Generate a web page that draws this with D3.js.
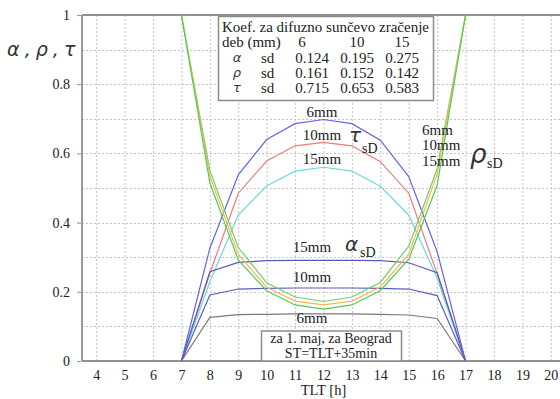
<!DOCTYPE html>
<html>
<head>
<meta charset="utf-8">
<script src="https://cdn.jsdelivr.net/npm/d3@7"></script>
<style>
  html, body { margin: 0; padding: 0; background: #fff; }
  svg { display: block; }
  text { font-family: "Liberation Serif", "Times New Roman", serif; fill: #222; }
  .greek { font-family: "DejaVu Sans", sans-serif; font-style: italic; font-weight: 200; fill: #333; }
</style>
</head>
<body>
<svg id="chart" width="560" height="399"></svg>
<script>
// Hours of the day (local solar time) at which coefficients are given
const hours = [7, 8, 9, 10, 11, 12, 13, 14, 15, 16, 17];

// Transmission of diffuse radiation, tau_sD, for 6 / 10 / 15 mm glass
const tau6  = [0, 0.326, 0.538, 0.640, 0.686, 0.698, 0.686, 0.638, 0.533, 0.316, 0];
const tau10 = [0, 0.253, 0.485, 0.578, 0.622, 0.632, 0.622, 0.576, 0.485, 0.253, 0];
const tau15 = [0, 0.229, 0.422, 0.506, 0.549, 0.560, 0.549, 0.505, 0.422, 0.240, 0];

// Absorption, alpha_sD
const alpha6  = [0, 0.126, 0.134, 0.135, 0.136, 0.136, 0.136, 0.135, 0.133, 0.123, 0];
const alpha10 = [0, 0.191, 0.208, 0.210, 0.211, 0.211, 0.211, 0.210, 0.208, 0.189, 0];
const alpha15 = [0, 0.258, 0.285, 0.290, 0.291, 0.291, 0.291, 0.290, 0.284, 0.255, 0];

// Reflection, rho_sD
const rho6  = [1, 0.550, 0.328, 0.226, 0.185, 0.172, 0.185, 0.227, 0.332, 0.555, 1];
const rho10 = [1, 0.535, 0.308, 0.213, 0.173, 0.162, 0.173, 0.214, 0.309, 0.540, 1];
const rho15 = [1, 0.515, 0.292, 0.203, 0.162, 0.150, 0.162, 0.204, 0.294, 0.508, 1];

// Tick labels
const xTicks = [4, 5, 6, 7, 8, 9, 10, 11, 12, 13, 14, 15, 16, 17, 18, 19, 20];
const yTicks = [0, 0.2, 0.4, 0.6, 0.8, 1];
const yGrid  = [0.1, 0.2, 0.3, 0.4, 0.5, 0.6, 0.7, 0.8, 0.9];

// Average diffuse coefficients table
const thicknesses = ["6", "10", "15"];
const tableRows = [
  { sym: "α", vals: ["0.124", "0.195", "0.275"] },
  { sym: "ρ", vals: ["0.161", "0.152", "0.142"] },
  { sym: "τ", vals: ["0.715", "0.653", "0.583"] }
];

const series = [
  { v: tau6,    color: "#6262f5" },
  { v: tau10,   color: "#ee7a7a" },
  { v: tau15,   color: "#66dada" },
  { v: alpha6,  color: "#7a7a7a" },
  { v: alpha10, color: "#5c5cc8" },
  { v: alpha15, color: "#5a5ab8" },
  { v: rho6,    color: "#6fd060" },
  { v: rho10,   color: "#ffb060" },
  { v: rho15,   color: "#4fce4f" }
];

const svg = d3.select("#chart");
const x = d3.scaleLinear().domain([3.5, 20.5]).range([82, 565]);
const y = d3.scaleLinear().domain([0, 1]).range([361, 15]);

// grid
const grid = svg.append("g").attr("stroke", "#c4c4c4").attr("stroke-width", 1)
  .attr("stroke-dasharray", "2,2");
grid.selectAll("line.v").data(xTicks).join("line")
  .attr("x1", d => x(d) + 0.5).attr("x2", d => x(d) + 0.5)
  .attr("y1", y(1)).attr("y2", y(0));
grid.selectAll("line.h").data(yGrid).join("line")
  .attr("x1", x(3.5)).attr("x2", 560)
  .attr("y1", d => Math.round(y(d)) + 0.5).attr("y2", d => Math.round(y(d)) + 0.5);

// frame
const frame = svg.append("g").attr("stroke", "#919191").attr("stroke-width", 1.8).attr("fill", "none");
frame.append("line").attr("x1", x(3.5)).attr("x2", 560).attr("y1", y(1)).attr("y2", y(1));
frame.append("line").attr("x1", x(3.5)).attr("x2", 560).attr("y1", y(0)).attr("y2", y(0));
frame.append("line").attr("x1", x(3.5)).attr("x2", x(3.5)).attr("y1", y(1)).attr("y2", y(0));

// axes (labels only; frame drawn above)
const yAxis = d3.axisLeft(y).tickValues(yTicks).tickSize(4).tickPadding(7)
  .tickFormat(d => d === 0 || d === 1 ? d3.format("d")(d) : d3.format(".1f")(d));
const gy = svg.append("g").attr("transform", `translate(${x(3.5) - 1},0)`).call(yAxis);
gy.select(".domain").remove();
gy.selectAll("line").attr("stroke", "#919191");
gy.selectAll("text").attr("font-size", 14).attr("font-family", "Liberation Serif").attr("fill", "#222");

const xAxis = d3.axisBottom(x).tickValues(xTicks).tickSize(0).tickPadding(9).tickFormat(d3.format("d"));
const gx = svg.append("g").attr("transform", `translate(0,${y(0)})`).call(xAxis);
gx.select(".domain").remove();
gx.selectAll("text").attr("font-size", 14).attr("font-family", "Liberation Serif").attr("fill", "#222");

svg.append("text").attr("x", x(12)).attr("y", 395).attr("text-anchor", "middle")
  .attr("font-size", 14.5).text("TLT [h]");
svg.append("text").attr("class", "greek").attr("x", 41).attr("y", 56).attr("text-anchor", "middle")
  .attr("font-size", 19).attr("letter-spacing", -0.5).text("α , ρ , τ");

// curves
const line = d3.line().x((d, i) => x(hours[i])).y(d => y(d));
svg.append("g").attr("fill", "none").attr("stroke-width", 1.2)
  .selectAll("path").data(series).join("path")
  .attr("stroke", d => d.color).attr("d", d => line(d.v));

// table of averaged coefficients
const tb = svg.append("g").attr("font-size", 15);
tb.append("rect").attr("x", 218.5).attr("y", 16.5).attr("width", 215).attr("height", 84)
  .attr("fill", "#fff").attr("stroke", "#8c8c8c").attr("stroke-width", 1.5);
tb.append("text").attr("x", 222).attr("y", 32).text("Koef. za difuzno sunčevo zračenje");
tb.append("text").attr("x", 222).attr("y", 47).text("deb (mm)");
const colX = [312, 357, 402];
tb.selectAll("text.th").data(thicknesses).join("text").attr("class", "th")
  .attr("x", (d, i) => colX[i] - (i === 0 ? 10 : 0)).attr("y", 47).attr("text-anchor", "middle")
  .text(d => d);
tableRows.forEach((r, k) => {
  const by = 63 + k * 15;
  tb.append("text").attr("class", "greek").attr("x", 237).attr("y", by - 1)
    .attr("text-anchor", "middle").attr("font-size", 13).text(r.sym);
  tb.append("text").attr("x", 261).attr("y", by).text("sd");
  tb.selectAll(null).data(r.vals).join("text")
    .attr("x", (d, i) => colX[i]).attr("y", by).attr("text-anchor", "middle")
    .text(d => d);
});

// date/location note
const nb = svg.append("g").attr("font-size", 14);
nb.append("rect").attr("x", 261.5).attr("y", 331).attr("width", 140).attr("height", 30)
  .attr("fill", "#fff").attr("stroke", "#8c8c8c").attr("stroke-width", 1.5);
nb.append("text").attr("x", 331).attr("y", 343).attr("text-anchor", "middle")
  .text("za 1. maj, za Beograd");
nb.append("text").attr("x", 331).attr("y", 358).attr("text-anchor", "middle")
  .text("ST=TLT+35min");

// curve labels
const lab = svg.append("g").attr("font-size", 15);
[["6mm", 322, 117], ["10mm", 322, 140], ["15mm", 322, 164],
 ["15mm", 312, 252], ["10mm", 312, 282], ["6mm", 312, 323]].forEach(([t, cx, cy]) => {
  lab.append("text").attr("x", cx).attr("y", cy).attr("text-anchor", "middle").text(t);
});
[["6mm", 135], ["10mm", 150], ["15mm", 166]].forEach(([t, by]) => {
  lab.append("text").attr("x", 422).attr("y", by).text(t);
});

// symbol labels with subscripts
function symLabel(sym, sx, sy, size, subx, suby) {
  svg.append("text").attr("class", "greek").attr("x", sx).attr("y", sy)
    .attr("font-size", size).text(sym);
  svg.append("text").attr("x", subx).attr("y", suby).attr("font-size", 14).text("sD");
}
symLabel("τ", 349, 142, 20, 362, 153);
symLabel("α", 345, 251, 20, 360, 257);
symLabel("ρ", 470, 163, 26, 487, 168);
</script>
</body>
</html>
